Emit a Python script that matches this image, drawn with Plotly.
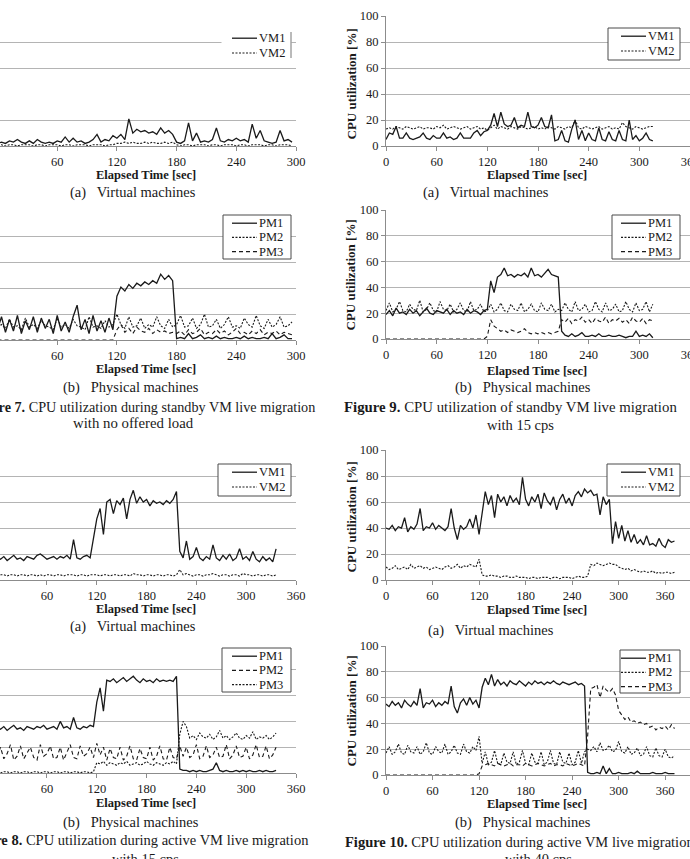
import plotly.graph_objects as go

W, H = 690, 859
FONT = "Liberation Serif, Times New Roman, serif"
INK = "#1a1a1a"
GRID = "#b4b4b4"
AXIS = "#8c8c8c"
BOX = "#4a4a4a"

# ---------------- time grids (sampling every 4 s) ----------------
T7 = list(range(0, 297, 4))    # Figure 7
T8 = list(range(0, 337, 4))    # Figure 8
T9 = list(range(0, 317, 4))    # Figure 9
T10 = list(range(0, 373, 4))   # Figure 10

X_TICKS = [0, 60, 120, 180, 240, 300, 360]
Y_TICKS = [0, 20, 40, 60, 80, 100]

# ---------------- Figure 7 (standby VM, no load) ----------------
F7A_VM1 = [2, 3, 2, 4, 3, 5, 3, 2, 4, 2, 5, 3, 2, 3, 2, 4, 3, 7, 3, 6,
           3, 4, 2, 3, 5, 9, 3, 5, 4, 8,
           6, 9, 5, 21, 10, 13, 11, 12, 10, 11, 9, 14, 10, 12, 9,
           3, 2, 4, 18, 4, 10, 3, 4, 3, 5, 14, 4, 3, 5, 4, 6, 4, 5, 3, 17,
           6, 12, 4, 3, 2, 3, 12, 4, 5, 3]
F7A_VM2 = [1, 1, 0, 1, 1, 0, 1, 1, 1, 0, 1, 1, 0, 1, 1, 1, 0, 1, 1, 0,
           1, 1, 1, 0, 1, 1, 1, 0, 1, 1,
           2,
           2, 3, 2, 3, 2, 2, 3, 2, 3, 2, 2, 3, 2, 3,
           1, 0, 1, 1, 0, 1, 1, 1, 0, 1, 1, 0, 1, 1, 1, 0, 1, 1, 0, 1,
           1, 1, 0, 1, 1, 0, 1, 1, 1, 0]
F7B_PM1 = [8, 18, 6, 16, 7, 19, 5, 15, 8, 18, 6, 17, 9, 16, 5, 19, 7, 14, 6, 18,
           27, 8, 16, 5, 19, 7, 15, 6, 17, 8,
           34, 41, 38, 43, 40, 44, 42, 45, 43, 46, 44, 51, 47, 50, 46,
           1, 2, 1, 5, 1, 2, 4, 1, 2, 1, 3, 1, 2, 1, 1, 2, 1, 3, 1, 2,
           1, 1, 2, 1, 5, 1, 2, 4, 1, 1]
F7B_PM2 = [10, 12, 9, 16, 10, 11, 8, 17, 10, 12, 9, 15, 11, 10, 8, 17, 10, 12, 9, 16,
           11, 10, 8, 18, 10, 11, 9, 15, 10, 12,
           20, 12, 9, 18, 10, 11, 17, 9, 12, 10, 18, 11, 9, 16, 10,
           12, 19, 10, 11, 17, 9, 12, 20, 10, 11, 16, 9, 12, 18, 10, 11, 9, 17, 12, 10,
           19, 11, 9, 16, 10, 12, 18, 10, 11, 14]
F7B_PM3 = [0, 0, 0, 0, 0, 0, 0, 0, 0, 0, 0, 0, 0, 0, 0, 0, 0, 0, 0, 0,
           0, 0, 0, 0, 0, 0, 0, 0, 0, 0,
           8, 12, 6, 9, 5, 10, 7, 6, 9, 5, 8, 6, 7, 5, 6,
           5, 7, 4, 8, 5, 6, 9, 4, 6, 5, 8, 5, 7, 4, 6, 9, 5, 6, 4, 7,
           5, 8, 4, 6, 5, 7, 4, 6, 5, 4]

# ---------------- Figure 8 (active VM, 15 cps) ----------------
F8A_VM1 = [17, 16, 18, 15, 17, 19, 16, 17, 15, 18, 17, 16, 19, 20, 18, 16, 17, 18, 16, 18,
           17, 19, 16, 31, 17, 16, 18, 19, 17, 32,
           47, 55, 35, 60, 62, 51, 61, 58, 63, 47, 62, 69, 59, 64, 60, 62, 57, 61, 59, 60,
           58, 61, 59, 62, 68, 22,
           17, 30, 16, 18, 25, 17, 15, 18, 16, 27, 17, 15, 19, 16, 20, 15, 17, 24, 16, 18,
           15, 22, 16, 14, 18, 15, 17, 14, 24]
F8A_VM2 = [5, 4, 4, 3, 4, 4, 3, 4, 4, 3, 4, 4, 3, 4, 3, 4, 4, 3, 4, 4,
           3, 4, 4, 4, 3, 4, 4, 3, 4, 4,
           4, 3, 4, 4, 3, 4, 4, 3, 4, 4, 3, 5, 4, 4, 3, 4, 4, 3, 4, 4,
           3, 4, 4, 3, 4, 8,
           4, 5, 4, 3, 4, 4, 3, 4, 4, 5, 4, 3, 4, 4, 3, 4, 4, 3, 5, 4,
           4, 3, 4, 4, 3, 4, 4, 3, 4]
F8B_PM1 = [35, 34, 36, 33, 35, 37, 34, 35, 33, 36, 35, 34, 36, 35, 37, 34, 35, 36, 34, 40,
           35, 36, 34, 43, 35, 34, 36, 35, 37, 36,
           55, 66, 48, 72, 71, 73, 70, 72, 74, 71, 73, 75, 72, 70, 73, 71, 72, 70, 73, 71,
           72, 71, 72, 71, 75, 3,
           2, 2, 1, 2, 1, 2, 1, 1, 2, 3, 8, 2, 1, 2, 1, 1, 2, 1, 2, 1,
           2, 1, 1, 2, 1, 2, 1, 1, 2]
F8B_PM2 = [12, 20, 11, 15, 22, 10, 13, 21, 11, 16, 20, 12, 10, 22, 13, 15, 21, 11, 12, 20,
           10, 16, 22, 12, 11, 21, 13, 15, 20, 12,
           23, 14, 20, 10, 19, 12, 11, 20, 10, 13, 21, 11, 10, 19, 12, 11, 20, 10, 13, 21,
           11, 10, 20, 12, 11, 21,
           13, 20, 12, 14, 22, 11, 13, 21, 12, 14, 20, 12, 13, 22, 11, 14, 21, 12, 13, 20,
           11, 14, 22, 12, 13, 21, 11, 14, 20]
F8B_PM3 = [1, 0, 1, 1, 0, 1, 1, 0, 1, 1, 0, 1, 1, 0, 1, 1, 0, 1, 1, 0,
           1, 1, 0, 1, 1, 0, 1, 1, 0, 1,
           8, 7, 9, 6, 8, 7, 6, 8, 7, 9, 6, 7, 8, 6, 7, 9, 7, 6, 8, 7,
           6, 8, 7, 9, 7, 30,
           40, 36, 27, 29, 26, 31, 28, 27, 30, 26, 28, 33, 27, 29, 26, 28, 31, 27, 26, 29,
           27, 32, 26, 28, 27, 29, 26, 28, 31]

# ---------------- Figure 9 (standby VM, 15 cps) ----------------
F9A_VM1 = [5, 10, 9, 15, 6, 6, 10, 6, 5, 6, 7, 10, 6, 5, 8, 6, 6, 10, 6, 7,
           5, 6, 10, 6, 6, 6, 10, 12, 8, 11, 12,
           16, 25, 15, 26, 17, 15, 16, 22, 14, 16, 15, 26, 15, 14, 16, 22, 15, 14, 24, 4,
           5, 12, 4, 3, 13, 20, 5, 12, 4, 10, 5, 4, 14, 5, 4, 11, 5, 4, 12, 5,
           4, 20, 5, 8, 4, 6, 10, 5, 4]
F9A_VM2 = [13, 14, 13, 15, 14, 13, 15, 14, 13, 14, 15, 13, 14, 14, 13, 15, 14, 16, 13, 14,
           15, 14, 13, 14, 15, 13, 14, 15, 13, 14, 12,
           14, 16, 13, 15, 14, 13, 15, 14, 13, 15, 14, 13, 14, 15, 13, 14, 13, 15, 14,
           13, 15, 14, 13, 15, 14, 20, 14, 13, 15, 14, 13, 14, 15, 13, 14, 15, 13, 14, 13,
           18, 15, 14, 13, 15, 14, 13, 14, 15, 15]
F9B_PM1 = [19, 22, 18, 24, 20, 21, 19, 23, 20, 22, 18, 21, 24, 20, 19, 22, 21, 20, 23, 19,
           22, 20, 21, 19, 23, 20, 22, 21, 19, 22,
           23,
           45, 36, 48, 50, 55, 49, 50, 48, 50, 49, 51, 48, 55, 49, 50, 48, 51, 54, 50, 49,
           48, 6, 3,
           2, 4, 2, 3, 5, 2, 2, 3, 2, 4, 2, 2, 3, 2, 2, 3, 2, 1, 2, 2,
           6, 2, 3, 2, 4, 1]
F9B_PM2 = [22, 28, 21, 23, 29, 22, 21, 27, 23, 22, 30, 21, 23, 28, 22, 21, 29, 23, 22, 27,
           21, 23, 28, 22, 21, 29, 22, 23, 27, 21,
           22, 27, 21, 23, 28, 22, 21, 27, 23, 22, 28, 21, 23, 27, 22, 21, 28, 23, 22, 27,
           21, 23,
           22, 28, 23, 21, 29, 22, 23, 27, 21, 22, 29, 23, 21, 28, 22, 23, 27, 21, 22, 29,
           23, 21, 28, 22, 23, 29, 21, 27]
F9B_PM3 = [0, 0, 0, 0, 0, 0, 0, 0, 0, 0, 0, 0, 0, 0, 0, 0, 0, 0, 0, 0,
           0, 0, 0, 0, 0, 0, 0, 0, 0, 0,
           2, 15, 10, 8, 6, 7, 5, 7, 6, 5, 6, 8, 5, 4, 5, 4, 5, 4, 5, 4,
           5, 6,
           15,
           13, 16, 12, 15, 14, 17, 13, 15, 12, 16, 14, 13, 17, 12, 15, 14, 16, 13, 15, 12,
           17, 14, 13, 16, 12, 15, 14]

# ---------------- Figure 10 (active VM, 40 cps) ----------------
F10A_VM1 = [40, 39, 42, 38, 41, 40, 48, 37, 41, 39, 43, 55, 38, 41, 40, 44, 39, 42, 40, 38,
            41, 55, 40, 31, 42, 39, 41, 47, 40, 50,
            35, 52, 68, 58, 65, 48, 66, 60, 64, 57, 65, 60, 63, 58, 79, 62, 57, 64, 60, 66,
            55, 67, 61, 58, 64, 54, 62, 66, 59, 63, 57, 65, 68, 64, 70, 67, 69, 65, 66, 50,
            64, 58, 62, 28, 45, 32, 42, 30, 38, 29, 35, 28, 31, 27, 34, 27, 28, 26, 32, 27,
            25, 31, 29, 30]
F10A_VM2 = [10, 8, 9, 11, 8, 9, 10, 8, 12, 9, 10, 11, 9, 10, 8, 9, 10, 9, 8, 10,
            11, 9, 10, 12, 9, 11, 10, 12, 11, 10,
            16,
            4, 3, 3, 4, 3, 3, 2, 3, 3, 2, 2, 3, 2, 2, 2, 1, 2, 2, 1, 2,
            2, 2, 1, 2, 2, 1, 2, 2, 2, 1, 2, 3, 2, 2,
            3,
            12, 11, 13, 12, 11, 12, 13, 12, 12, 10, 9, 8, 9, 7, 8, 7, 6, 7, 6, 6,
            7, 5, 6, 5, 6, 6, 5, 6]
F10B_PM1 = [55, 53, 57, 54, 56, 52, 58, 55, 53, 57, 54, 67, 52, 56, 55, 58, 53, 56, 54, 57,
            55, 69, 53, 48, 56, 59, 54, 60, 55, 58,
            52, 68, 75, 70, 78, 69, 74, 70, 72, 69, 73, 71, 70, 73, 71, 69, 72, 70, 73, 71,
            72, 70, 72, 71, 73, 71, 70, 72, 71, 70, 71, 72, 70, 71, 69, 2,
            1, 1, 2, 1, 7, 1, 5, 1, 1, 2, 1, 1, 1, 2, 1, 3, 1, 1, 1, 1,
            2, 1, 1, 1, 2, 1, 1, 1]
F10B_PM2 = [17, 22, 16, 18, 24, 17, 16, 23, 18, 17, 22, 16, 18, 25, 17, 16, 22, 18, 17, 24,
            16, 18, 23, 17, 16, 24, 18, 17, 22, 19,
            30,
            9, 18, 8, 10, 19, 9, 8, 17, 10, 9, 18, 8, 10, 19, 9, 8, 17, 10, 9, 18,
            8, 10, 19, 9, 8, 18, 10, 9, 17, 8, 10, 19, 9, 18,
            20,
            19, 22, 18, 25, 19, 20, 23, 18, 19, 26, 18, 17, 22, 16, 17, 21, 15, 16, 22, 15,
            14, 21, 15, 14, 20, 14, 13, 15]
F10B_PM3 = [0, 0, 0, 0, 0, 0, 0, 0, 0, 0, 0, 0, 0, 0, 0, 0, 0, 0, 0, 0,
            0, 0, 0, 0, 0, 0, 0, 0, 0, 0,
            1,
            7, 8, 9, 8, 7, 9, 8, 7, 8, 9, 7, 8, 8, 7, 9, 8, 7, 8, 9, 8,
            7, 8, 9, 7, 8, 8, 7, 9, 8, 7, 8, 9, 8, 7,
            30, 67,
            68, 70, 60, 69, 66, 64, 67, 62, 50, 46, 43, 45, 41, 42, 40, 41, 39, 40, 37, 38,
            35, 37, 36, 38, 35, 39, 36]

# ---------------- styling / layout helpers ----------------
STYLE = {
    "solid": dict(dash="solid", width=1.3),
    "fine": dict(dash="2px,1.5px", width=1.1),
    "dash": dict(dash="4px,3px", width=1.1),
}


def px(x):
    return x / W


def py(y):
    return 1 - y / H


LEFT = (0, 296)
RIGHT = (386, 690)

# box = (left, right, top, bottom) of each legend box, in page pixels
# grid = gridlines that survive in the scanned original
panels = [
    dict(T=T7, col=0, top=17, bot=146, xr=[2.5, 300], box=(222, 291, 30, 60), border=False,
         grid=[0, 20, 60, 80, 100],
         series=[("VM1", F7A_VM1, "solid"), ("VM2", F7A_VM2, "fine")]),
    dict(T=T7, col=0, top=211, bot=340, xr=[2.5, 300], box=(223, 291, 215, 259), border=True,
         grid=Y_TICKS,
         series=[("PM1", F7B_PM1, "solid"), ("PM2", F7B_PM2, "fine"), ("PM3", F7B_PM3, "dash")]),
    dict(T=T8, col=0, top=450, bot=580, xr=[3.4, 360], box=(218, 291, 464, 496), border=True,
         grid=[0, 20, 40, 60, 80],
         series=[("VM1", F8A_VM1, "solid"), ("VM2", F8A_VM2, "fine")]),
    dict(T=T8, col=0, top=644, bot=773, xr=[3.4, 360], box=(222, 291, 648, 692), border=True,
         grid=Y_TICKS,
         series=[("PM1", F8B_PM1, "solid"), ("PM2", F8B_PM2, "dash"), ("PM3", F8B_PM3, "fine")]),
    dict(T=T9, col=1, top=16, bot=146, xr=[0, 360], box=(608, 680, 28, 60), border=True,
         grid=Y_TICKS,
         series=[("VM1", F9A_VM1, "solid"), ("VM2", F9A_VM2, "fine")]),
    dict(T=T9, col=1, top=210, bot=339, xr=[0, 360], box=(612, 680, 215, 259), border=True,
         grid=Y_TICKS,
         series=[("PM1", F9B_PM1, "solid"), ("PM2", F9B_PM2, "fine"), ("PM3", F9B_PM3, "dash")]),
    dict(T=T10, col=1, top=450, bot=580, xr=[0, 392], box=(607, 680, 464, 496), border=True,
         grid=Y_TICKS,
         series=[("VM1", F10A_VM1, "solid"), ("VM2", F10A_VM2, "fine")]),
    dict(T=T10, col=1, top=646, bot=775, xr=[0, 392], box=(620, 680, 650, 693), border=True,
         grid=Y_TICKS,
         series=[("PM1", F10B_PM1, "solid"), ("PM2", F10B_PM2, "fine"), ("PM3", F10B_PM3, "dash")]),
]

fig = go.Figure()
layout = dict(
    width=W, height=H, margin=dict(l=0, r=0, t=0, b=0),
    paper_bgcolor="white", plot_bgcolor="white", showlegend=False,
    font=dict(family=FONT, color=INK, size=12),
)

tickfont = dict(family=FONT, size=12.5, color=INK)
shapes = []
ann = []


def text(x, y, s, size=14.5, xanchor="center", angle=0):
    ann.append(dict(x=px(x), y=py(y), xref="paper", yref="paper", text=s,
                    showarrow=False, xanchor=xanchor, yanchor="middle",
                    textangle=angle, font=dict(family=FONT, size=size, color=INK)))


for k, p in enumerate(panels, start=1):
    sx = "" if k == 1 else str(k)
    xname, yname = "x" + sx, "y" + sx
    dom = LEFT if p["col"] == 0 else RIGHT
    right = p["col"] == 1
    layout["xaxis" + sx] = dict(
        domain=[px(dom[0]), px(dom[1])], range=p["xr"], anchor=yname,
        tickmode="array", tickvals=X_TICKS, showgrid=False, zeroline=False,
        showline=True, linecolor=AXIS, linewidth=1, ticks="outside", ticklen=4,
        tickcolor=AXIS, tickfont=tickfont, fixedrange=True, automargin=False,
        ticklabeloverflow="allow",
    )
    layout["yaxis" + sx] = dict(
        domain=[py(p["bot"]), py(p["top"])], range=[0, 100], anchor=xname,
        tickmode="array", tickvals=Y_TICKS if right else p["grid"],
        showgrid=True, gridcolor=GRID, gridwidth=1,
        zeroline=False, showline=right, linecolor=AXIS, linewidth=1,
        ticks="outside" if right else "", ticklen=4, tickcolor=AXIS,
        showticklabels=right, tickfont=tickfont, fixedrange=True, automargin=False,
    )
    for name, vals, sty in p["series"]:
        fig.add_trace(go.Scatter(
            x=p["T"], y=vals, mode="lines", name=name,
            line=dict(color=INK, **STYLE[sty]),
            xaxis=xname, yaxis=yname, hoverinfo="skip", showlegend=False,
        ))

    # legend box (Excel style), drawn from the series names and line styles
    L, R, TOP, BOT = p["box"]
    shapes.append(dict(type="rect", xref="paper", yref="paper",
                       x0=px(L), x1=px(R), y0=py(BOT), y1=py(TOP),
                       fillcolor="white",
                       line=dict(color=BOX if p["border"] else "white", width=1),
                       layer="above"))
    if not p["border"]:
        shapes.append(dict(type="line", xref="paper", yref="paper",
                           x0=px(R), x1=px(R), y0=py(BOT - 2), y1=py(TOP + 2),
                           line=dict(color="#777777", width=1), layer="above"))
    n = len(p["series"])
    step = 14.2 if n == 3 else 14.8
    for i, (name, vals, sty) in enumerate(p["series"]):
        yy = TOP + 8.2 + i * step
        shapes.append(dict(type="line", xref="paper", yref="paper",
                           x0=px(R - 59), x1=px(R - 34), y0=py(yy), y1=py(yy),
                           line=dict(color=INK, **STYLE[sty]), layer="above"))
        ann.append(dict(x=px(R - 34), y=py(yy), xref="paper", yref="paper", text=name,
                        showarrow=False, xanchor="left", yanchor="middle",
                        font=dict(family=FONT, size=12.5, color=INK)))

XT = "<b>Elapsed Time [sec]</b>"
for x, y in [(146, 175), (146, 369), (146, 609), (146, 803),
             (537, 175), (537, 371), (537, 610), (537, 804)]:
    text(x, y, XT, size=12.5)

YT = "<b>CPU utilization [%]</b>"
for y in [84, 275, 517, 711]:
    text(350.5, y, YT, size=13, angle=-90)

VMS = "(a)\u2002 Virtual machines"
PMS = "(b)\u2002 Physical machines"
text(68, 193, VMS, xanchor="left")
text(61, 388, PMS, xanchor="left")
text(68, 626, VMS, xanchor="left")
text(61, 822, PMS, xanchor="left")
text(421, 193, VMS, xanchor="left")
text(453, 388, PMS, xanchor="left")
text(426, 630, VMS, xanchor="left")
text(453, 822, PMS, xanchor="left")

text(317, 407, "<b>Figure 7.</b> CPU utilization during standby VM live migration",
     size=14.2, xanchor="right")
text(133, 423, "with no offered load", size=14.8)
text(311, 840, "<b>Figure 8.</b> CPU utilization during active VM live migration", xanchor="right")
text(145, 859, "with 15 cps")
text(679, 407, "<b>Figure 9.</b> CPU utilization of standby VM live migration",
     size=14.8, xanchor="right")
text(520, 425, "with 15 cps")
text(343, 842, "<b>Figure 10.</b> CPU utilization during active VM live migration", xanchor="left")
text(538, 859, "with 40 cps")

layout["annotations"] = ann
layout["shapes"] = shapes
fig.update_layout(**layout)
fig.write_html("out.html")
